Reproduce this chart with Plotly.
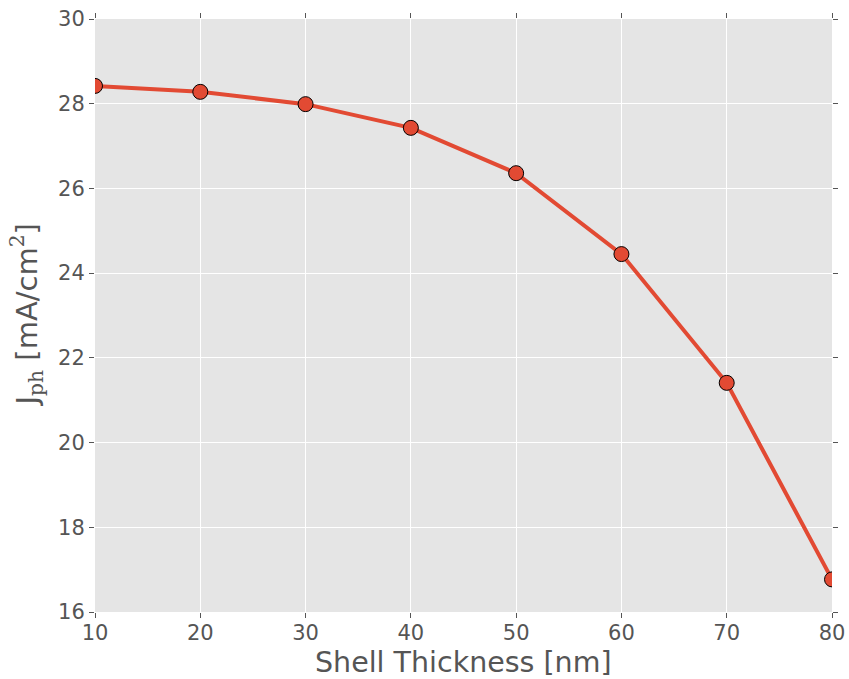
import plotly.graph_objects as go

# Shell thickness sweep and resulting photocurrent density
shell_thickness_nm = [10, 20, 30, 40, 50, 60, 70, 80]
j_ph = [28.42, 28.28, 27.99, 27.43, 26.36, 24.45, 21.41, 16.77]

x_ticks = [10, 20, 30, 40, 50, 60, 70, 80]
y_ticks = [16, 18, 20, 22, 24, 26, 28, 30]

x_title = "Shell Thickness [nm]"
y_title = ("J<sub><span style='font-family:DejaVu Serif'>ph</span></sub> "
           "[mA/cm<sup><span style='font-family:DejaVu Serif'>2</span></sup>]")

TEXT = "#555555"
RED = "#E24A33"
FONT = "DejaVu Sans"

fig = go.Figure(
    go.Scatter(
        x=shell_thickness_nm,
        y=j_ph,
        mode="lines+markers",
        line=dict(color=RED, width=4),
        marker=dict(size=15, color=RED, line=dict(color="black", width=1)),
        cliponaxis=True,
    )
)

axis_common = dict(
    showgrid=True,
    gridcolor="white",
    gridwidth=1.3,
    zeroline=False,
    showline=False,
    ticks="outside",
    ticklen=5,
    tickwidth=1,
    tickcolor=TEXT,
    mirror="ticks",
    automargin=False,
    tickfont=dict(family=FONT, size=21, color=TEXT),
)

fig.update_xaxes(range=[10, 80], tickvals=x_ticks, ticklabelstandoff=-3,
                 ticktext=[str(v) for v in x_ticks], **axis_common)
fig.update_yaxes(range=[16, 30], tickvals=y_ticks,
                 ticktext=[str(v) for v in y_ticks], **axis_common)

# Axis titles placed as annotations relative to the plotting area
fig.add_annotation(text=x_title, xref="paper", yref="paper", x=0.5, y=0,
                   xanchor="center", yanchor="middle", yshift=-50, borderpad=0,
                   showarrow=False, font=dict(family=FONT, size=28.5, color=TEXT))
fig.add_annotation(text=y_title, xref="paper", yref="paper", x=0, y=0.5,
                   xanchor="center", yanchor="middle", xshift=-69, textangle=-90,
                   borderpad=0, showarrow=False,
                   font=dict(family=FONT, size=29, color=TEXT))

fig.update_layout(
    width=849,
    height=679,
    margin=dict(l=95, r=17, t=19, b=67),
    paper_bgcolor="white",
    plot_bgcolor="#E5E5E5",
    showlegend=False,
)

fig.write_html("out.html")
